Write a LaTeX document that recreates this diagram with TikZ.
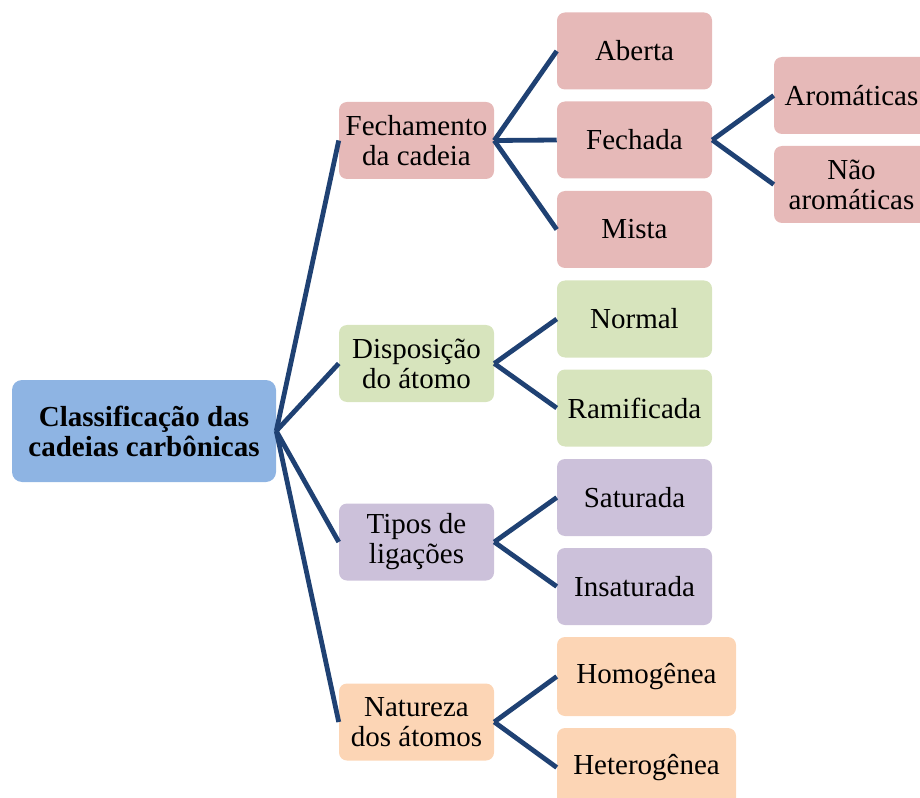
\documentclass[tikz,border=0pt]{standalone}
\usepackage{fontspec}
\setmainfont{Liberation Serif}
\definecolor{rootblue}{HTML}{8EB4E3}
\definecolor{pinkf}{HTML}{E6B9B8}
\definecolor{greenf}{HTML}{D7E4BD}
\definecolor{purplef}{HTML}{CCC1DA}
\definecolor{orangef}{HTML}{FCD5B5}
\definecolor{linkc}{HTML}{1F4173}
\begin{document}
\begin{tikzpicture}[x=0.75pt,y=-0.75pt,
  box/.style={rectangle, rounded corners=6pt, align=center, inner sep=0pt,
    font=\fontsize{21.75}{22.5}\selectfont, text=black,
    minimum width=116.25pt, minimum height=57.75pt},
  wide/.style={box, minimum width=134.25pt, minimum height=59.25pt},
  rootbox/.style={box, rounded corners=7.5pt, fill=rootblue, font=\fontsize{21.75}{22.5}\selectfont\bfseries,
    minimum width=198pt, minimum height=76.5pt},
  link/.style={draw=linkc, line width=3.6pt}]
\useasboundingbox (0,0) rectangle (920,798);
\clip (0,0) rectangle (920,798);
\node[rootbox] (root) at (144,431) {Classificação das\\cadeias carbônicas};
% level 1
\node[box, fill=pinkf] (fech) at (416.5,140.5) {Fechamento\\da cadeia};
\node[box, fill=greenf] (disp) at (416.5,363.5) {Disposição\\do átomo};
\node[box, fill=purplef] (tipo) at (416.5,542) {Tipos de\\ligações};
\node[box, fill=orangef] (natu) at (416.5,722) {Natureza\\dos átomos};
% level 2
\node[box, fill=pinkf] (aber) at (634.5,51) {Aberta};
\node[box, fill=pinkf] (fecd) at (634.5,140) {Fechada};
\node[box, fill=pinkf] (mist) at (634.5,229.5) {Mista};
\node[box, fill=greenf] (norm) at (634.5,319) {Normal};
\node[box, fill=greenf] (rami) at (634.5,408) {Ramificada};
\node[box, fill=purplef] (satu) at (634.5,497.5) {Saturada};
\node[box, fill=purplef] (insa) at (634.5,586.5) {Insaturada};
\node[wide, fill=orangef] (homo) at (646.5,676.5) {Homogênea};
\node[wide, fill=orangef] (hete) at (646.5,767.5) {Heterogênea};
% level 3
\node[box, fill=pinkf] (arom) at (851.5,95.5) {Aromáticas};
\node[box, fill=pinkf] (naoa) at (851.5,184.5) {Não\\aromáticas};
% connectors
\foreach \c in {fech,disp,tipo,natu} \draw[link] (root.east) -- (\c.west);
\foreach \c in {aber,fecd,mist} \draw[link] (fech.east) -- (\c.west);
\foreach \c in {norm,rami} \draw[link] (disp.east) -- (\c.west);
\foreach \c in {satu,insa} \draw[link] (tipo.east) -- (\c.west);
\foreach \c in {homo,hete} \draw[link] (natu.east) -- (\c.west);
\foreach \c in {arom,naoa} \draw[link] (fecd.east) -- (\c.west);
\end{tikzpicture}
\end{document}
